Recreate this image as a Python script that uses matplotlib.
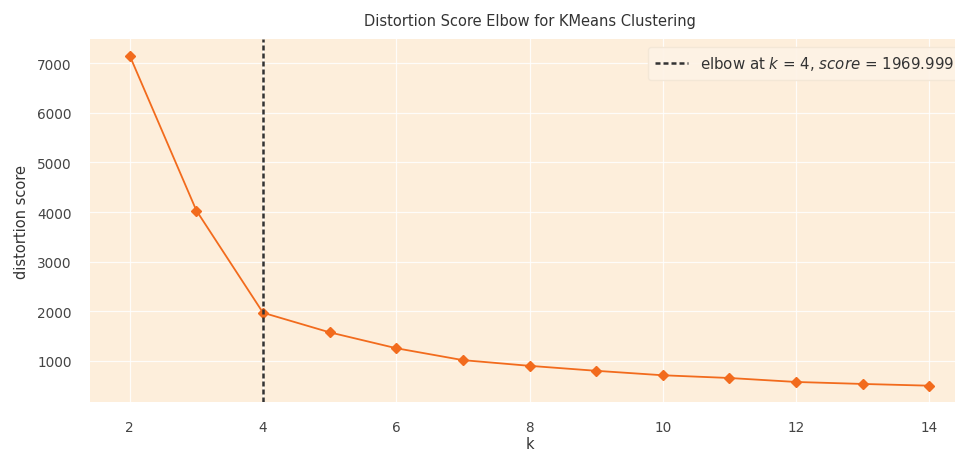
import matplotlib
matplotlib.use("Agg")
import matplotlib.pyplot as plt

k_values = [2, 3, 4, 5, 6, 7, 8, 9, 10, 11, 12, 13, 14]
scores = [7150, 4030, 1970, 1575, 1255, 1015, 900, 800, 710, 655, 575, 535, 500]
elbow_k = 4
elbow_score = 1969.999
xticks = [2, 4, 6, 8, 10, 12, 14]
yticks = [1000, 2000, 3000, 4000, 5000, 6000, 7000]

plt.rcParams['font.family'] = ['DejaVu Sans']
fig = plt.figure(figsize=(9.55, 4.52), dpi=100)
fig.patch.set_facecolor('white')
ax = fig.add_axes([0.094, 0.108, 0.921, 0.803])
ax.set_facecolor('#fdeedb')
for s in ax.spines.values():
    s.set_visible(False)
ax.grid(True, color='white', linewidth=0.9, alpha=0.85)
ax.set_axisbelow(True)

ax.plot(k_values, scores, marker='D', color='#f26b1d', markersize=5, linewidth=1.3)
ax.axvline(elbow_k, color='#333333', linestyle='--', linewidth=1.8,
           dashes=(2, 1.2),
           label=f"elbow at $k$ = {elbow_k}, $score$ = {elbow_score:.3f}")
ax.set_xticks(xticks)
ax.set_yticks(yticks)
ax.tick_params(colors='#444444', labelsize=9.8, length=0, pad=13)
ax.set_title("Distortion Score Elbow for KMeans Clustering", fontsize=10.5, color='#333333', pad=10)
ax.set_xlabel("k", fontsize=10.5, color='#333333', labelpad=1)
ax.set_ylabel("distortion score", fontsize=10.5, color='#333333', labelpad=6)
leg = ax.legend(loc='upper right', frameon=True, fontsize=10.8, facecolor='#fdf3e6',
                edgecolor='#f2e6d6', handlelength=2.2, borderpad=0.5, labelcolor='#333333')
leg.get_frame().set_alpha(0.9)

fig.savefig("out.png", dpi=100)
